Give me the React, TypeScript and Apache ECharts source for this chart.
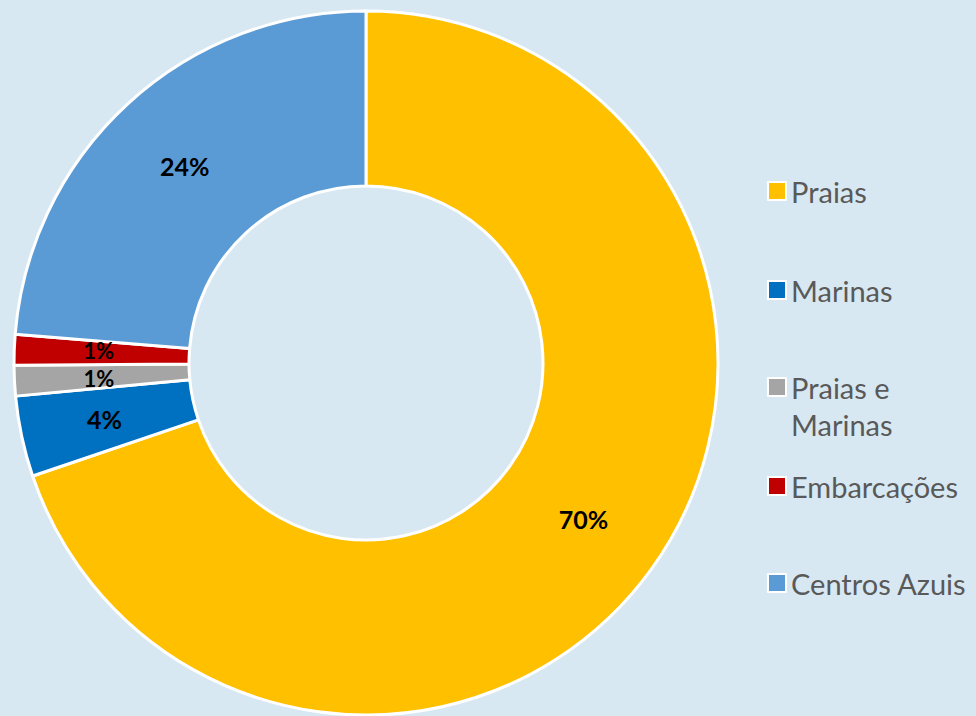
import React, { useEffect, useRef } from "react";
import * as echarts from "echarts";

const categories = ["Praias", "Marinas", "Praias e Marinas", "Embarcações", "Centros Azuis"];
const legendLabels = ["Praias", "Marinas", " \nPraias e\nMarinas", "Embarcações", "Centros Azuis"];
const values = [69.8, 3.7, 1.4, 1.4, 23.7];
const colors = ["#FFC000", "#0070C0", "#A5A5A5", "#C00000", "#5B9BD5"];
const legendCenters = [191, 290, 387, 486, 583];

export default function App() {
  const ref = useRef<HTMLDivElement>(null);
  useEffect(() => {
    if (!ref.current) return;
    const chart = echarts.init(ref.current, undefined, { renderer: "svg" });
    const font = "Lato, 'Open Sans', sans-serif";
    const lineH = 37;
    const legends = categories.map((name, i) => {
      const label = legendLabels[i];
      const lines = label.split("\n").length;
      const h = Math.max(18, lines * lineH);
      return {
        data: [name],
        left: 767,
        top: legendCenters[i] - h / 2,
        orient: "vertical",
        itemWidth: 18,
        itemHeight: 18,
        itemGap: 0,
        padding: 0,
        icon: "rect",
        itemStyle: { borderColor: "#ffffff", borderWidth: 2 },
        formatter: () => label,
        textStyle: {
          color: "#595959",
          fontSize: 29,
          fontFamily: font,
          lineHeight: lineH,
        },
      };
    });
    const smallLabel: Record<number, any> = {
      2: { fontSize: 22, lineHeight: 20, offset: [0, 2] },
      3: { fontSize: 22, lineHeight: 20, offset: [0, -2] },
    };
    chart.setOption({
      animation: false,
      backgroundColor: "#d8e8f2",
      legend: legends,
      series: [
        {
          type: "pie",
          center: [366, 363],
          radius: [177, 352],
          startAngle: 90,
          clockwise: true,
          percentPrecision: 0,
          avoidLabelOverlap: false,
          minShowLabelAngle: 0,
          labelLayout: { hideOverlap: false },
          data: categories.map((name, i) => ({
            name,
            value: values[i],
            itemStyle: { color: colors[i] },
            ...(smallLabel[i] ? { label: smallLabel[i] } : {}),
          })),
          itemStyle: { borderColor: "#ffffff", borderWidth: 3 },
          label: {
            show: true,
            position: "inside",
            formatter: "{d}%",
            color: "#000000",
            fontSize: 25,
            fontWeight: "bold",
            fontFamily: font,
          },
          labelLine: { show: false },
          emphasis: { disabled: true },
        },
      ],
    });
    return () => chart.dispose();
  }, []);
  return <div ref={ref} style={{ position: "absolute", left: 0, top: 0, width: 976, height: 716 }} />;
}
